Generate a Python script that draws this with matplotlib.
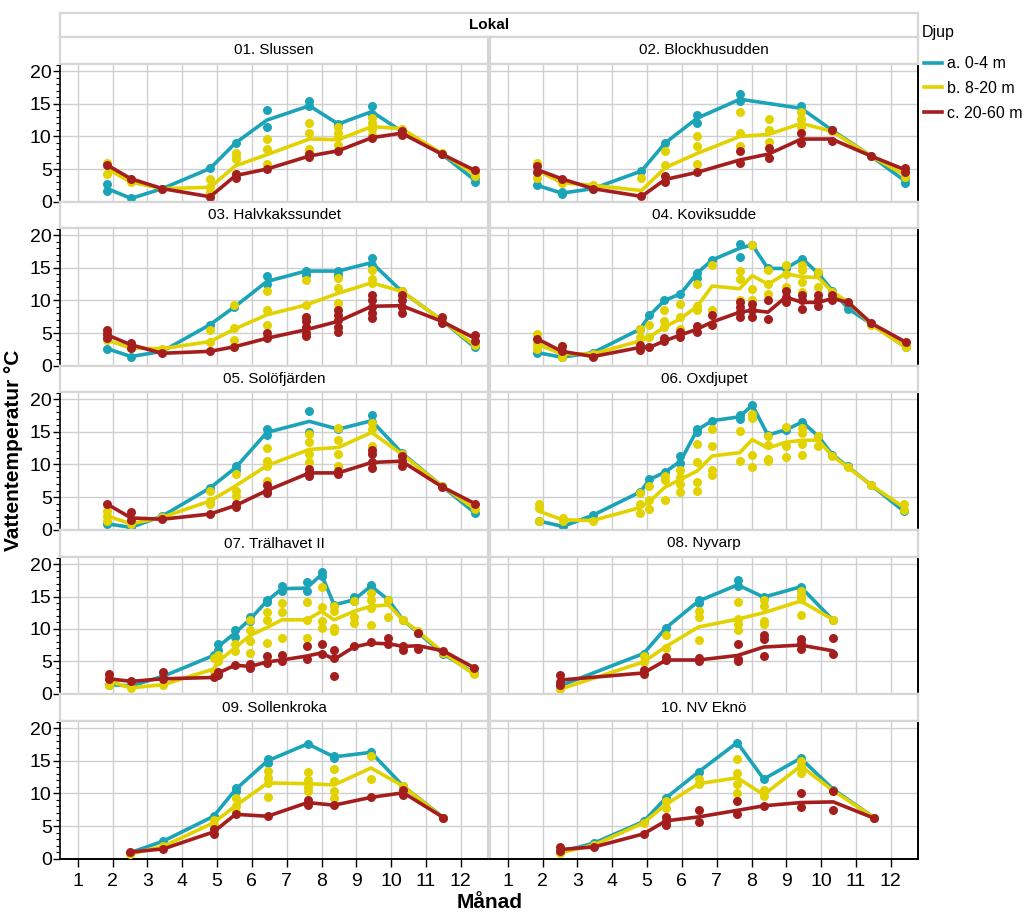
import matplotlib
matplotlib.use("Agg")
import matplotlib.pyplot as plt
from matplotlib.lines import Line2D
from matplotlib.ticker import MultipleLocator

plt.rcParams['font.family'] = ['Liberation Sans', 'DejaVu Sans']

# ---- data (month as decimal, temperature in degC) ----
stations = ["01. Slussen", "02. Blockhusudden", "03. Halvkakssundet", "04. Koviksudde",
            "05. Solöfjärden", "06. Oxdjupet", "07. Trälhavet II", "08. Nyvarp",
            "09. Sollenkroka", "10. NV Eknö"]
depths = ["a. 0-4 m", "b. 8-20 m", "c. 20-60 m"]
colors = ["#1ba3b8", "#e2d200", "#a41e1e"]

s1_x = [1.85, 2.53, 3.43, 4.8, 5.53, 6.43, 7.65, 8.48, 9.44, 10.3, 11.45, 12.4]
s1_a = [2.0, 0.5, 2.0, 5.1, 9.0, 12.5, 14.7, 11.9, 13.8, 10.8, 7.3, 3.3]
s1_a_pts = [[2.7, 1.7], [], [], [], [], [14.1, 11.4], [15.5, 14.6], [], [14.6, 13.5], [], [], [3.0, 3.6]]
s1_b = [5.0, 3.0, 2.0, 2.2, 5.5, 7.2, 9.6, 9.5, 11.5, 11.2, 7.4, 4.2]
s1_b_pts = [[5.9, 4.3], [], [], [3.5, 2.3, 1.5], [7.4, 6.9, 6.5, 4.2], [9.6, 8.0, 5.8],
            [12.1, 10.5, 8.1, 7.5], [11.4, 10.5, 9.9, 8.7], [12.8, 12.0, 11.2, 10.2], [], [], [4.5, 4.0]]
s1_c = [5.6, 3.5, 2.0, 0.75, 4.0, 5.0, 7.0, 7.8, 9.8, 10.5, 7.3, 4.8]
s1_c_pts = [[], [], [], [], [3.7, 4.2], [], [7.3, 6.8], [], [], [10.9, 10.2], [], []]

s2_x = [1.85, 2.55, 3.45, 4.84, 5.52, 6.44, 7.67, 8.49, 9.43, 10.3, 11.43, 12.4]
s2_a = [2.5, 1.3, 2.0, 4.7, 9.0, 12.8, 15.7, None, 14.3, 11.0, 7.0, 3.2]
s2_a_pts = [[], [1.1, 1.5], [], [], [], [13.3, 12.0], [16.5, 15.4], [], [14.7], [], [], [2.9, 3.5]]
s2_b = [4.8, 2.9, 2.5, 1.7, 5.2, 7.4, 10.0, 10.3, 12.0, 10.8, 7.0, 4.1]
s2_b_pts = [[5.9, 3.6], [], [], [3.6], [7.7, 5.6], [10.0, 8.5, 5.7], [13.7, 10.5, 8.5],
            [12.7, 11.0, 9.2], [13.8, 12.6, 11.5], [], [], [4.5, 3.8]]
s2_c = [4.9, 3.5, 2.0, 0.8, 3.4, 4.5, 6.4, 7.3, 9.6, 9.6, 7.0, 4.9]
s2_c_pts = [[5.4, 4.6], [], [], [], [3.9, 3.0], [], [7.7, 5.9], [8.2, 6.7], [10.5, 9.0],
            [11.0, 9.3], [], [5.2, 4.5]]

s3_x = [1.85, 2.53, 3.43, 4.8, 5.5, 6.43, 7.55, 8.48, 9.44, 10.3, 11.45, 12.4]
s3_a = [2.6, 1.4, 2.2, 6.3, 9.0, 12.9, 14.5, 14.5, 15.8, 11.4, 7.0, 2.8]
s3_a_pts = [[], [], [], [], [], [13.8, 12.5], [14.5, 13.9], [14.5, 13.9], [16.5, 15.5], [], [], []]
s3_b = [3.9, 2.7, 2.6, 3.7, 5.6, 7.8, 9.3, 11.1, 12.7, 11.4, 7.0, 3.1]
s3_b_pts = [[], [], [], [5.4, 3.7], [9.3, 5.7, 3.9], [11.4, 8.6, 6.3], [13.2, 9.3, 7.5],
            [13.4, 11.9, 9.6], [14.7, 13.3, 12.7], [], [], []]
s3_c = [4.7, 3.2, 1.9, 2.2, 2.9, 4.2, 5.5, 6.8, 9.1, 9.2, 6.8, 4.2]
s3_c_pts = [[5.5, 4.9, 4.2], [3.5, 2.7], [], [], [], [5.0, 4.2], [7.5, 6.8, 6.0, 5.0, 4.5],
            [8.6, 7.8, 7.0, 6.0, 5.2], [10.9, 10.1, 9.0, 8.1, 7.3], [10.9, 10.1, 9.0, 8.1],
            [7.5, 6.6], [4.7, 3.8]]

s4_x = [1.85, 2.55, 3.45, 4.8, 5.07, 5.5, 5.96, 6.44, 6.87, 7.66, 8.02, 8.47, 8.98, 9.46,
        9.92, 10.32, 10.78, 11.44, 12.43]
s4_a = [2.0, 1.3, 2.0, 5.6, 7.7, 10.0, 11.0, 14.2, 16.2, 18.0, 18.5, 14.9, 14.9, 16.4,
        14.1, 11.5, 8.7, 6.4, 2.8]
s4_a_pts = [[], [], [], [], [], [], [], [14.2, 13.5], [], [18.7, 16.7], [], [], [], [],
            [], [], [], [], []]
s4_b = [3.3, 1.8, 1.8, 3.8, 4.4, 5.9, 7.2, 9.1, 12.2, 11.8, 13.8, 12.5, 14.1, 13.6,
        13.5, 11.3, 9.7, 6.3, 2.8]
s4_b_pts = [[4.9, 3.3, 2.5], [3.0, 1.3], [], [5.6, 4.4], [6.3, 4.4], [8.5, 6.9, 5.9],
            [9.4, 7.4, 5.6], [12.5, 9.1, 8.5], [15.4, 8.5], [14.5, 13.3, 10.0],
            [18.5, 11.8, 10.0], [14.6, 12.5, 11.0], [15.4, 14.1, 12.1],
            [15.4, 14.6, 12.8, 11.3], [14.4, 12.1], [], [], [], []]
s4_c = [4.1, 2.2, 1.4, 2.8, 2.8, 3.8, 4.7, 5.6, 6.7, 8.2, 8.5, 8.2, 10.5, 9.7,
        9.7, 10.3, 9.7, 6.5, 3.6]
s4_c_pts = [[], [3.0, 2.2], [], [3.1, 2.4], [], [4.2, 3.8], [5.1, 4.4], [6.1, 5.1],
            [7.8, 6.2], [9.7, 9.0, 8.2, 7.4], [9.5, 8.5, 7.4], [10.0, 7.2],
            [11.5, 10.5, 9.7], [10.9, 10.0, 8.7], [10.9, 10.0, 9.1], [10.9, 10.0], [], [], []]

s5_x = [1.85, 2.53, 3.43, 4.8, 5.53, 6.43, 7.65, 8.48, 9.44, 10.3, 11.45, 12.4]
s5_a = [0.9, 0.35, 2.1, 6.4, 9.5, 14.9, 16.6, 15.4, 16.7, 11.8, 6.7, 2.6]
s5_a_pts = [[], [], [], [], [9.7, 9.2], [15.5, 14.5], [18.2, 14.9], [], [17.5, 16.5], [], [], []]
s5_b = [2.1, 0.9, 1.9, 4.4, 6.7, 9.8, 12.3, 12.6, 14.9, 11.6, 6.7, 3.2]
s5_b_pts = [[2.9, 2.1, 1.4], [], [], [6.0, 4.4, 3.9], [8.5, 6.0, 5.2], [12.5, 10.6, 9.8, 7.5],
            [14.6, 13.4, 11.6, 10.3], [15.6, 13.7, 11.6, 9.8], [16.4, 15.5, 12.9], [], [], []]
s5_c = [3.9, 1.8, 1.6, 2.4, 3.7, 6.0, 8.7, 8.7, 10.3, 10.5, 6.6, 4.0]
s5_c_pts = [[], [2.7, 1.5], [], [], [4.0, 3.5], [6.9, 6.0, 5.6], [9.3, 8.7, 8.2], [9.0, 8.5],
            [12.2, 11.6, 10.3, 9.5], [11.3, 10.5, 9.8], [], []]

s6_x = [1.91, 2.58, 3.44, 4.81, 5.07, 5.51, 5.96, 6.44, 6.87, 7.66, 8.02, 8.47, 8.98, 9.46,
        9.92, 10.32, 10.76, 11.44, 12.38]
s6_a = [1.3, 0.5, 2.2, 5.8, 7.7, 8.8, 10.5, 15.3, 16.7, 17.3, 19.1, 14.5, 15.3, 16.5,
        14.3, 11.5, 9.7, 6.8, 2.8]
s6_a_pts = [[], [], [], [], [], [], [11.3, 10.2], [15.5, 15.0], [], [17.5, 16.9], [], [], [],
            [], [], [], [], [], []]
s6_b = [2.8, 1.5, 1.4, 3.4, 4.3, 6.5, 7.7, 9.0, 11.3, 11.8, 13.8, 12.5, 13.4, 13.7,
        13.7, 11.3, 9.6, 6.8, 3.4]
s6_b_pts = [[3.9, 3.3, 1.3], [1.8, 1.3], [], [5.6, 3.9, 2.6], [6.7, 4.5, 3.1], [8.3, 7.6, 4.6],
            [9.1, 8.0, 7.0, 5.7], [13.1, 10.3, 7.3, 6.0], [15.4, 12.9, 9.1, 8.4], [15.1, 10.5],
            [17.8, 17.1, 11.5, 9.6], [14.4, 13.0, 10.9, 10.5], [15.7, 12.8, 11.2],
            [15.6, 14.8, 13.2, 11.5], [14.4, 12.8], [], [], [], [3.9, 3.0]]
s6_c = [None] * 19
s6_c_pts = [[]] * 19

s7_x = [1.9, 2.53, 3.46, 4.9, 5.04, 5.52, 5.95, 6.43, 6.86, 7.57, 8.0, 8.36, 8.93, 9.42,
        9.92, 10.35, 10.78, 11.5, 12.38]
s7_a = [1.4, 1.2, 2.7, 5.9, 7.3, 9.4, 11.5, 14.3, 16.2, 16.3, 18.4, 13.7, 14.5, 16.6,
        14.5, 11.3, 9.4, 6.1, 3.2]
s7_a_pts = [[], [], [], [], [7.6, 6.8], [9.9, 8.7], [11.8, 11.2], [14.5, 14.1], [16.6, 15.9],
            [17.3, 15.8], [18.8, 18.2], [], [15.0, 14.3], [16.8, 16.4], [], [], [], [], []]
s7_b = [1.9, 0.9, 1.4, 3.8, 5.0, 7.1, 9.0, 10.2, 11.4, 11.4, 12.7, 11.4, 12.7, 13.5,
        13.7, 11.3, 9.6, 6.3, 3.0]
s7_b_pts = [[2.7, 1.4], [], [], [5.5, 3.5], [6.0, 5.0], [7.6, 6.6], [11.3, 9.9, 8.1, 6.3],
            [12.6, 11.3, 7.8], [14.0, 12.6, 8.6], [14.1, 11.4, 8.6], [16.5, 13.4, 11.2, 10.2],
            [13.5, 12.8, 10.2, 9.7], [14.3, 11.8, 10.9], [15.5, 14.5, 13.2, 10.6],
            [14.5, 11.8], [], [], [], []]
s7_c = [2.3, 1.9, 2.3, 2.5, 3.2, 4.4, 4.2, 4.9, 5.2, 5.8, 6.3, 5.3, 7.2, 7.8,
        7.7, 7.3, 7.4, 6.6, 4.0]
s7_c_pts = [[3.0, 2.3], [], [3.3, 2.3], [], [3.4, 2.9], [], [4.6, 4.0], [5.8, 4.8], [5.9, 5.0],
            [7.3, 5.3], [7.6, 6.1], [6.8, 5.5, 2.7], [7.3], [8.0], [8.6, 7.7], [7.3, 6.8],
            [9.4, 6.9], [], []]

s8_x = [2.5, 4.9, 5.55, 6.48, 7.6, 8.35, 9.41, 10.35]
s8_a = [1.2, 6.2, 10.2, 14.3, 16.8, 14.9, 16.5, 11.3]
s8_a_pts = [[], [], [], [14.5, 14.0], [17.6, 16.6], [], [], []]
s8_b = [0.7, 4.9, 7.3, 10.3, 11.5, 12.5, 14.3, 11.4]
s8_b_pts = [[], [5.8, 4.9], [9.0, 7.1], [12.7, 11.8, 8.3], [14.1, 11.5, 10.7, 9.9],
            [14.5, 13.6, 11.2, 10.8], [15.8, 15.1, 14.6, 12.2], []]
s8_c = [2.1, 3.2, 5.2, 5.2, 5.9, 7.2, 7.5, 6.6]
s8_c_pts = [[2.9, 1.8, 1.3], [3.7, 3.1], [5.6, 5.2], [5.5, 5.0], [7.6, 5.4, 5.0],
            [9.1, 8.4, 5.8], [8.4, 7.9, 6.9], [8.6, 6.1]]

s9_x = [2.5, 3.46, 4.9, 5.53, 6.45, 7.6, 8.36, 9.42, 10.35, 11.5]
s9_a = [0.9, 2.7, 6.5, 10.6, 15.0, 17.6, 15.6, 16.3, 11.1, 6.3]
s9_a_pts = [[], [], [], [10.9, 10.3], [15.2, 14.6], [], [15.8, 15.4], [], [], []]
s9_b = [0.7, 1.9, 5.5, 8.1, 11.6, 11.5, 11.3, 13.9, 11.1, 6.2]
s9_b_pts = [[], [], [6.0, 5.2], [9.3, 8.1, 7.2], [13.4, 12.4, 11.6, 9.4], [13.3, 12.1, 11.0, 10.4],
            [13.7, 11.9, 10.3, 9.3], [15.8, 12.2], [], []]
s9_c = [1.0, 1.5, 4.1, 6.8, 6.5, 8.6, 8.2, 9.4, 10.1, 6.3]
s9_c_pts = [[], [], [4.5, 3.8], [], [], [9.0, 8.3], [], [], [10.5, 9.8], []]

s10_x = [2.5, 3.48, 4.9, 5.54, 6.48, 7.59, 8.35, 9.41, 10.35, 11.52]
s10_a = [1.0, 2.4, 5.7, 9.3, 13.3, 17.8, 12.2, 15.4, 10.6, 6.3]
s10_a_pts = [[]] * 10
s10_b = [0.9, 2.1, 5.5, 8.3, 11.5, 12.4, 9.8, 14.2, 10.4, 6.3]
s10_b_pts = [[], [], [], [8.9, 7.8], [12.2, 11.5], [15.2, 13.2, 11.4, 10.1], [10.6, 9.6],
             [15.0, 14.2, 13.2], [], []]
s10_c = [1.4, 1.8, 3.8, 5.8, 6.4, 7.4, 8.1, 8.6, 8.7, 6.2]
s10_c_pts = [[1.8, 1.1], [], [], [6.4, 5.7, 5.2], [7.5, 5.6], [8.8, 6.8], [], [10.0, 7.9],
             [10.4, 7.5], []]

panels = [
    (s1_x, [(s1_a, s1_a_pts), (s1_b, s1_b_pts), (s1_c, s1_c_pts)]),
    (s2_x, [(s2_a, s2_a_pts), (s2_b, s2_b_pts), (s2_c, s2_c_pts)]),
    (s3_x, [(s3_a, s3_a_pts), (s3_b, s3_b_pts), (s3_c, s3_c_pts)]),
    (s4_x, [(s4_a, s4_a_pts), (s4_b, s4_b_pts), (s4_c, s4_c_pts)]),
    (s5_x, [(s5_a, s5_a_pts), (s5_b, s5_b_pts), (s5_c, s5_c_pts)]),
    (s6_x, [(s6_a, s6_a_pts), (s6_b, s6_b_pts), (s6_c, s6_c_pts)]),
    (s7_x, [(s7_a, s7_a_pts), (s7_b, s7_b_pts), (s7_c, s7_c_pts)]),
    (s8_x, [(s8_a, s8_a_pts), (s8_b, s8_b_pts), (s8_c, s8_c_pts)]),
    (s9_x, [(s9_a, s9_a_pts), (s9_b, s9_b_pts), (s9_c, s9_c_pts)]),
    (s10_x, [(s10_a, s10_a_pts), (s10_b, s10_b_pts), (s10_c, s10_c_pts)]),
]

# ---- layout in pixels ----
W, H = 1024, 917
fig = plt.figure(figsize=(W / 100, H / 100), dpi=100)
border = "#d6d6d6"
gridc = "#cfcfcf"


def box(x0, y0, x1, y1):
    return [x0 / W, 1 - y1 / H, (x1 - x0) / W, (y1 - y0) / H]


def strip(x0, y0, x1, y1, label, bold=False):
    s = fig.add_axes(box(x0, y0, x1, y1))
    s.set_xticks([])
    s.set_yticks([])
    for sp in s.spines.values():
        sp.set_color(border)
        sp.set_linewidth(1.6)
    s.text(0.5, 0.5, label, ha="center", va="center", fontsize=11,
           fontweight="bold" if bold else "normal", transform=s.transAxes)


strip(60, 13, 918, 37, "Lokal", bold=True)

cols = [(60, 488), (490, 918)]
rows = [(37, 64, 202), (202, 228, 366), (366, 392, 530), (530, 557, 694), (694, 721, 859)]

for i, (name, (xs, series)) in enumerate(zip(stations, panels)):
    r, c = divmod(i, 2)
    x0, x1 = cols[c]
    sy0, py0, py1 = rows[r]
    strip(x0, sy0, x1, py0, name)
    ax = fig.add_axes(box(x0, py0, x1, py1))
    ax.set_xlim(0.49, 12.78)
    ax.set_ylim(-0.05, 21.1)
    for m in range(1, 13):
        ax.axvline(m, color=gridc, lw=1, zorder=0)
    for v in range(0, 21, 5):
        ax.axhline(v, color=gridc, lw=1, zorder=0)
    for sp in ax.spines.values():
        sp.set_color(border)
        sp.set_linewidth(1.6)

    for (means, pts), col in zip(series, colors):
        lx = [x for x, m in zip(xs, means) if m is not None]
        ly = [m for m in means if m is not None]
        ax.plot(lx, ly, color=col, lw=2.6, zorder=3, solid_capstyle="round")
        px, py = [], []
        for x, m, p in zip(xs, means, pts):
            vals = p if p else ([m] if m is not None else [])
            px += [x] * len(vals)
            py += vals
        ax.scatter(px, py, s=42, color=col, zorder=3, linewidths=0, clip_on=False)

    ax.set_xticks(range(1, 13))
    ax.yaxis.set_major_locator(MultipleLocator(5))
    ax.yaxis.set_minor_locator(MultipleLocator(1))
    ax.tick_params(axis="both", which="both", labelsize=14, colors="black")
    if c == 0:
        ax.spines["left"].set_color("black")
        ax.spines["left"].set_linewidth(1.2)
        ax.tick_params(axis="y", which="major", length=5, width=1, pad=1)
        ax.tick_params(axis="y", which="minor", length=3, width=0.8)
    else:
        ax.spines["right"].set_color("black")
        ax.spines["right"].set_linewidth(1.4)
        ax.tick_params(axis="y", which="both", left=False, labelleft=False)
    if r == 4:
        ax.spines["bottom"].set_color("black")
        ax.spines["bottom"].set_linewidth(1.4)
        ax.tick_params(axis="x", length=6, width=1, pad=4)
    else:
        ax.tick_params(axis="x", bottom=False, labelbottom=False)

fig.text(14 / W, 1 - 450 / H, "Vattentemperatur °C", rotation=90, ha="center", va="center",
         fontsize=15, fontweight="bold")
fig.text(490 / W, 1 - 903 / H, "Månad", ha="center", va="center", fontsize=15, fontweight="bold")

# legend
fig.text(922 / W, 1 - 32 / H, "Djup", ha="left", va="center", fontsize=11.5)
handles = [Line2D([], [], color=col, lw=2.6) for col in colors]
fig.legend(handles, depths, loc="upper left", bbox_to_anchor=(918 / W, 1 - 50 / H),
           frameon=False, fontsize=11.5, handlelength=1.1, handletextpad=0.3,
           labelspacing=0.6, borderaxespad=0)

fig.savefig("out.png", dpi=100)
